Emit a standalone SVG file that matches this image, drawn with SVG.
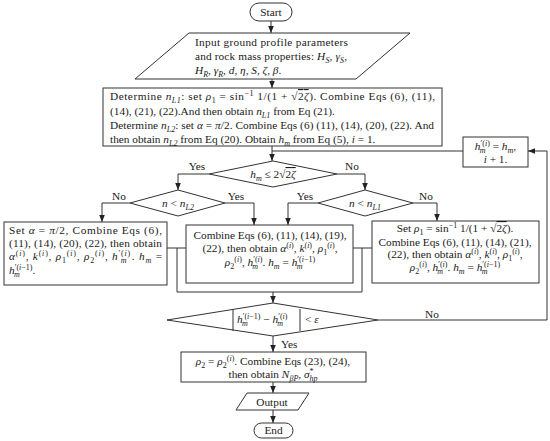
<svg xmlns="http://www.w3.org/2000/svg" width="550" height="441" viewBox="0 0 550 441">
<defs>
<marker id="ah" markerWidth="8" markerHeight="8" refX="7" refY="4" orient="auto" markerUnits="userSpaceOnUse"><path d="M0,1.2 L7,4 L0,6.8 z" fill="#222"/></marker>
<style>
text{font-family:"Liberation Serif","Times New Roman",serif;font-size:11.3px;fill:#1a1a1a}
.i{font-style:italic}
.s{font-size:8px}
.b{fill:#fff;stroke:#333;stroke-width:1}
.c{fill:none;stroke:#333;stroke-width:1}
.a{marker-end:url(#ah)}
.m{text-anchor:middle}
.o{text-decoration:overline}
</style>
</defs>
<rect width="550" height="441" fill="#fff"/>

<g id="connectors">
<path class="c a" d="M271,21 V33"/>
<path class="c a" d="M272,79 V88"/>
<path class="c a" d="M272,146 V161"/>
<path class="c" d="M463,151 H272"/>
<path class="c a" d="M378,320 H547 V151 H528"/>
<path class="c a" d="M209,174 H178 V190"/>
<path class="c a" d="M337,174 H365 V190"/>
<path class="c a" d="M130,203 H102 V222"/>
<path class="c a" d="M225,203 H254 V225"/>
<path class="c a" d="M318,203 H288 V225"/>
<path class="c a" d="M413,203 H437 V221"/>
<path class="c" d="M167,248 H186 M177,248 V292 H362 V248 M372,248 H353"/>
<path class="c a" d="M273,292 V303"/>
<path class="c a" d="M273,336 V352"/>
<path class="c a" d="M273,382 V393"/>
<path class="c a" d="M273,410 V423"/>
<text class="m" x="197" y="170">Yes</text>
<text class="m" x="352" y="170">No</text>
<text class="m" x="119" y="200">No</text>
<text class="m" x="236" y="200">Yes</text>
<text class="m" x="305" y="200">Yes</text>
<text class="m" x="426" y="200">No</text>
<text class="m" x="432" y="318">No</text>
<text x="281" y="348">Yes</text>
</g>

<g id="start"><rect class="b" x="250" y="3" width="42" height="18" rx="9"/><text class="m" x="271" y="16">Start</text></g>

<g id="input"><path class="b" d="M189,33 H410 L356,79 H135 Z"/>
<text x="195" y="46" textLength="153" lengthAdjust="spacing">Input ground profile parameters</text>
<text x="195" y="60" textLength="152" lengthAdjust="spacing">and rock mass properties: <tspan class="i">H</tspan><tspan class="s i" dy="2.5">S</tspan><tspan dy="-2.5">, </tspan><tspan class="i">γ</tspan><tspan class="s i" dy="2.5">S</tspan><tspan dy="-2.5">,</tspan></text>
<text x="195" y="74"><tspan class="i">H</tspan><tspan class="s i" dy="2.5">R</tspan><tspan dy="-2.5">, </tspan><tspan class="i">γ</tspan><tspan class="s i" dy="2.5">R</tspan><tspan dy="-2.5">, </tspan><tspan class="i">d</tspan>, <tspan class="i">η</tspan>, <tspan class="i">S</tspan>, <tspan class="i">ζ</tspan>, <tspan class="i">β</tspan>.</text>
</g>

<g id="init"><rect class="b" x="103" y="88" width="339" height="58"/>
<text x="110" y="100" textLength="325" lengthAdjust="spacing">Determine <tspan class="i">n</tspan><tspan class="s i" dy="2.5">L1</tspan><tspan dy="-2.5">: set </tspan><tspan class="i">ρ</tspan><tspan class="s" dy="2.5">1</tspan><tspan dy="-2.5"> = sin</tspan><tspan class="s" dy="-4">−1</tspan><tspan dy="4"> 1/(1 + √</tspan><tspan class="o">2<tspan class="i">ζ</tspan></tspan>). Combine Eqs (6), (11),</text>
<text x="110" y="115">(14), (21), (22).And then obtain <tspan class="i">n</tspan><tspan class="s i" dy="2.5">L1</tspan><tspan dy="-2.5"> from Eq (21).</tspan></text>
<text x="110" y="129" textLength="324" lengthAdjust="spacing">Determine <tspan class="i">n</tspan><tspan class="s i" dy="2.5">L2</tspan><tspan dy="-2.5">: set </tspan><tspan class="i">α</tspan> = <tspan class="i">π</tspan>/2. Combine Eqs (6) (11), (14), (20), (22). And</text>
<text x="110" y="143">then obtain <tspan class="i">n</tspan><tspan class="s i" dy="2.5">L2</tspan><tspan dy="-2.5"> from Eq (20). Obtain </tspan><tspan class="i">h</tspan><tspan class="s i" dy="2.5">m</tspan><tspan dy="-2.5"> from Eq (5),  </tspan><tspan class="i">i</tspan> = 1.</text>
</g>

<g id="update"><rect class="b" x="463" y="137" width="65" height="30"/>
<text class="m" x="495.5" y="150"><tspan class="i">h</tspan><tspan class="s" dy="-4">′(<tspan class="i">i</tspan>)</tspan><tspan class="s i" dx="-10.2" dy="6.5">m</tspan><tspan dx="4.4" dy="-2.5"> = </tspan><tspan class="i">h</tspan><tspan class="s i" dy="2.5">m</tspan><tspan dy="-2.5">,</tspan></text>
<text class="m" x="495.5" y="163"><tspan class="i">i</tspan> + 1.</text>
</g>

<g id="check-hm"><path class="b" d="M273,161 L337,174 L273,187 L209,174 Z"/>
<text class="m" x="273" y="178"><tspan class="i">h</tspan><tspan class="s i" dy="2.5">m</tspan><tspan dy="-2.5"> ≤ 2√</tspan><tspan class="o">2<tspan class="i">ζ</tspan></tspan></text>
</g>

<g id="check-nL2"><path class="b" d="M178,190 L225,203 L178,216 L130,203 Z"/>
<text class="m" x="178" y="207"><tspan class="i">n</tspan> &lt; <tspan class="i">n</tspan><tspan class="s i" dy="2.5">L2</tspan></text>
</g>

<g id="check-nL1"><path class="b" d="M365,190 L413,203 L365,216 L318,203 Z"/>
<text class="m" x="365" y="207"><tspan class="i">n</tspan> &lt; <tspan class="i">n</tspan><tspan class="s i" dy="2.5">L1</tspan></text>
</g>

<g id="box-left"><rect class="b" x="4" y="222" width="163" height="63"/>
<text x="9" y="234" textLength="153" lengthAdjust="spacing">Set <tspan class="i">α</tspan> = <tspan class="i">π</tspan>/2, Combine Eqs (6),</text>
<text x="9" y="247" textLength="153" lengthAdjust="spacing">(11), (14), (20), (22), then obtain</text>
<text x="9" y="260" textLength="153" lengthAdjust="spacing"><tspan class="i">α</tspan><tspan class="s" dy="-4">(<tspan class="i">i</tspan>)</tspan><tspan dy="4">, </tspan><tspan class="i">k</tspan><tspan class="s" dy="-4">(<tspan class="i">i</tspan>)</tspan><tspan dy="4">, </tspan><tspan class="i">ρ</tspan><tspan class="s" dy="2.5">1</tspan><tspan class="s" dy="-6.5">(<tspan class="i">i</tspan>)</tspan><tspan dy="4">, </tspan><tspan class="i">ρ</tspan><tspan class="s" dy="2.5">2</tspan><tspan class="s" dy="-6.5">(<tspan class="i">i</tspan>)</tspan><tspan dy="4">, </tspan><tspan class="i">h</tspan><tspan class="s" dy="-4">′(<tspan class="i">i</tspan>)</tspan><tspan class="s i" dx="-10.2" dy="6.5">m</tspan><tspan dx="4.4" dy="-2.5">. </tspan><tspan class="i">h</tspan><tspan class="s i" dy="2.5">m</tspan><tspan dy="-2.5"> =</tspan></text>
<text x="9" y="274"><tspan class="i">h</tspan><tspan class="s" dy="-4">′(<tspan class="i">i</tspan>−1)</tspan><tspan class="s i" dx="-18.5" dy="6.5">m</tspan><tspan dx="12.7" dy="-2.5">.</tspan></text>
</g>

<g id="box-mid"><rect class="b" x="186" y="225" width="167" height="58"/>
<text class="m" x="270" y="239">Combine Eqs (6), (11), (14), (19),</text>
<text class="m" x="270" y="252">(22), then obtain <tspan class="i">α</tspan><tspan class="s" dy="-4">(<tspan class="i">i</tspan>)</tspan><tspan dy="4">, </tspan><tspan class="i">k</tspan><tspan class="s" dy="-4">(<tspan class="i">i</tspan>)</tspan><tspan dy="4">, </tspan><tspan class="i">ρ</tspan><tspan class="s" dy="2.5">1</tspan><tspan class="s" dy="-6.5">(<tspan class="i">i</tspan>)</tspan><tspan dy="4">,</tspan></text>
<text class="m" x="270" y="266"><tspan class="i">ρ</tspan><tspan class="s" dy="2.5">2</tspan><tspan class="s" dy="-6.5">(<tspan class="i">i</tspan>)</tspan><tspan dy="4">, </tspan><tspan class="i">h</tspan><tspan class="s" dy="-4">′(<tspan class="i">i</tspan>)</tspan><tspan class="s i" dx="-10.2" dy="6.5">m</tspan><tspan dx="4.4" dy="-2.5">. </tspan><tspan class="i">h</tspan><tspan class="s i" dy="2.5">m</tspan><tspan dy="-2.5"> = </tspan><tspan class="i">h</tspan><tspan class="s" dy="-4">′(<tspan class="i">i</tspan>−1)</tspan><tspan class="s i" dx="-18.5" dy="6.5">m</tspan><tspan dx="12.7" dy="-2.5"></tspan></text>
</g>

<g id="box-right"><rect class="b" x="372" y="221" width="167" height="62"/>
<text class="m" x="455" y="232">Set <tspan class="i">ρ</tspan><tspan class="s" dy="2.5">1</tspan><tspan dy="-2.5"> = sin</tspan><tspan class="s" dy="-4">−1</tspan><tspan dy="4"> 1/(1 + √</tspan><tspan class="o">2<tspan class="i">ζ</tspan></tspan>).</text>
<text class="m" x="455" y="246">Combine Eqs (6), (11), (14), (21),</text>
<text class="m" x="455" y="258">(22), then obtain <tspan class="i">α</tspan><tspan class="s" dy="-4">(<tspan class="i">i</tspan>)</tspan><tspan dy="4">, </tspan><tspan class="i">k</tspan><tspan class="s" dy="-4">(<tspan class="i">i</tspan>)</tspan><tspan dy="4">, </tspan><tspan class="i">ρ</tspan><tspan class="s" dy="2.5">1</tspan><tspan class="s" dy="-6.5">(<tspan class="i">i</tspan>)</tspan><tspan dy="4">,</tspan></text>
<text class="m" x="455" y="271"><tspan class="i">ρ</tspan><tspan class="s" dy="2.5">2</tspan><tspan class="s" dy="-6.5">(<tspan class="i">i</tspan>)</tspan><tspan dy="4">, </tspan><tspan class="i">h</tspan><tspan class="s" dy="-4">′(<tspan class="i">i</tspan>)</tspan><tspan class="s i" dx="-10.2" dy="6.5">m</tspan><tspan dx="4.4" dy="-2.5">. </tspan><tspan class="i">h</tspan><tspan class="s i" dy="2.5">m</tspan><tspan dy="-2.5"> = </tspan><tspan class="i">h</tspan><tspan class="s" dy="-4">′(<tspan class="i">i</tspan>−1)</tspan><tspan class="s i" dx="-18.5" dy="6.5">m</tspan><tspan dx="12.7" dy="-2.5"></tspan></text>
</g>

<g id="check-conv"><path class="b" d="M273,303 L378,320 L273,336 L167,320 Z"/>
<path class="c" d="M233,309 V331 M300,309 V331"/>
<text x="237" y="323"><tspan class="i">h</tspan><tspan class="s" dy="-4">′(<tspan class="i">i</tspan>−1)</tspan><tspan class="s i" dx="-18.5" dy="6.5">m</tspan><tspan dx="12.7" dy="-2.5"> − </tspan><tspan class="i">h</tspan><tspan class="s" dy="-4">′(<tspan class="i">i</tspan>)</tspan><tspan class="s i" dx="-10.2" dy="6.5">m</tspan></text>
<text x="305" y="323">&lt; <tspan class="i">ε</tspan></text>
</g>

<g id="final"><rect class="b" x="181" y="352" width="185" height="30"/>
<text class="m" x="273" y="365"><tspan class="i">ρ</tspan><tspan class="s" dy="2.5">2</tspan><tspan dy="-2.5"> = </tspan><tspan class="i">ρ</tspan><tspan class="s" dy="2.5">2</tspan><tspan class="s" dy="-6.5">(<tspan class="i">i</tspan>)</tspan><tspan dy="4">. Combine Eqs (23), (24),</tspan></text>
<text class="m" x="273" y="378">then obtain <tspan class="i">N</tspan><tspan class="s i" dy="2.5">βP</tspan><tspan dy="-2.5">, </tspan><tspan class="i">σ</tspan><tspan class="s" dy="-4">*</tspan><tspan class="s i" dx="-4" dy="6.5">hp</tspan></text>
</g>

<g id="output"><path class="b" d="M247,393 H309 L298,410 H236 Z"/><text class="m" x="272" y="406">Output</text></g>

<g id="end"><rect class="b" x="254" y="423" width="39" height="15" rx="7.5"/><text class="m" x="273.5" y="434">End</text></g>
</svg>
